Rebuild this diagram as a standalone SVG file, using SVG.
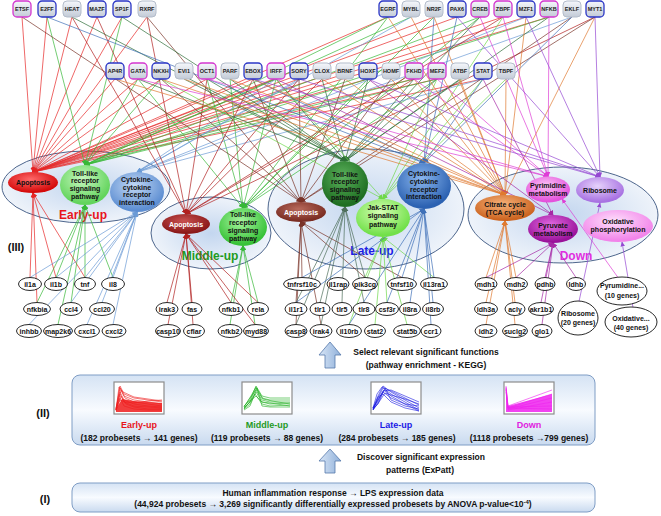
<svg xmlns="http://www.w3.org/2000/svg" width="661" height="516" viewBox="0 0 661 516">
<style>
text{font-family:"Liberation Sans",Arial,sans-serif;font-weight:bold}
.tf rect{fill:url(#gTF);stroke:#b4bdcb;stroke-width:1}
.tf.b rect{stroke:#2b36c6;stroke-width:1.3}
.tf.m rect{stroke:#d436cf;stroke-width:1.3}
.tf text{font-size:5.5px;text-anchor:middle;fill:#1a1a1a}
.cl ellipse{stroke:#3b5680;stroke-width:0.9;fill:url(#gCl)}
.cl text{font-size:12px;text-anchor:middle}
.pw text{font-size:7px;text-anchor:middle;fill:#111}
.pw text.w{fill:#fff}
.gn ellipse{fill:#fff;stroke:#111;stroke-width:0.9}
.gn text{font-size:7px;text-anchor:middle;fill:#111}
.cn line{stroke-width:0.7}
.box{fill:url(#gBox);stroke:#7f9dc5;stroke-width:1}
.t9{font-size:8.5px;text-anchor:middle;fill:#111}
.bar{fill:url(#gArr);stroke:#5579ab;stroke-width:0.8}
.plot rect{fill:#fff;stroke:#8c8c8c;stroke-width:1.2}
.plot polyline{fill:none;stroke-width:0.6}
.roman{font-size:11px;fill:#111;text-anchor:middle}
</style>
<defs>
<linearGradient id="gTF" x1="0" y1="0" x2="0" y2="1"><stop offset="0" stop-color="#f5f7fb"/><stop offset="1" stop-color="#c3cbd7"/></linearGradient>
<radialGradient id="gCl" cx="0.5" cy="0.5" r="0.5"><stop offset="0" stop-color="#c3d6ef"/><stop offset="1" stop-color="#eef3fa"/></radialGradient>
<linearGradient id="gBox" x1="0" y1="0" x2="0" y2="1"><stop offset="0" stop-color="#d5e3f4"/><stop offset="0.5" stop-color="#f8fbff"/><stop offset="1" stop-color="#c9daef"/></linearGradient>
<linearGradient id="gArr" x1="0" y1="0" x2="1" y2="0"><stop offset="0" stop-color="#d9e6f6"/><stop offset="1" stop-color="#8fb0da"/></linearGradient>
<radialGradient id="gRed" cx="0.45" cy="0.35" r="0.6"><stop offset="0" stop-color="#ff6a6a"/><stop offset="1" stop-color="#d40a0a"/></radialGradient>
<radialGradient id="gLG" cx="0.45" cy="0.35" r="0.6"><stop offset="0" stop-color="#c6f7be"/><stop offset="1" stop-color="#62d45c"/></radialGradient>
<radialGradient id="gBlue" cx="0.45" cy="0.35" r="0.6"><stop offset="0" stop-color="#c2d8f4"/><stop offset="1" stop-color="#5d8ed2"/></radialGradient>
<radialGradient id="gDR" cx="0.45" cy="0.35" r="0.6"><stop offset="0" stop-color="#c85050"/><stop offset="1" stop-color="#8a1818"/></radialGradient>
<radialGradient id="gG2" cx="0.45" cy="0.35" r="0.6"><stop offset="0" stop-color="#a8f5a0"/><stop offset="1" stop-color="#38c238"/></radialGradient>
<radialGradient id="gBr" cx="0.45" cy="0.35" r="0.6"><stop offset="0" stop-color="#b86a5c"/><stop offset="1" stop-color="#7a2c22"/></radialGradient>
<radialGradient id="gDG" cx="0.45" cy="0.35" r="0.6"><stop offset="0" stop-color="#5cb25c"/><stop offset="1" stop-color="#1e6e22"/></radialGradient>
<radialGradient id="gJak" cx="0.45" cy="0.35" r="0.6"><stop offset="0" stop-color="#d6ffb4"/><stop offset="1" stop-color="#72e04a"/></radialGradient>
<radialGradient id="gBlue2" cx="0.45" cy="0.35" r="0.6"><stop offset="0" stop-color="#8ab6ee"/><stop offset="1" stop-color="#2c62b2"/></radialGradient>
<radialGradient id="gOr" cx="0.45" cy="0.35" r="0.6"><stop offset="0" stop-color="#f6b27a"/><stop offset="1" stop-color="#cc6420"/></radialGradient>
<radialGradient id="gPk" cx="0.45" cy="0.35" r="0.6"><stop offset="0" stop-color="#fbc4f6"/><stop offset="1" stop-color="#e452dc"/></radialGradient>
<radialGradient id="gLav" cx="0.45" cy="0.35" r="0.6"><stop offset="0" stop-color="#e6d2fb"/><stop offset="1" stop-color="#a872e2"/></radialGradient>
<radialGradient id="gMag" cx="0.45" cy="0.35" r="0.6"><stop offset="0" stop-color="#e26ae2"/><stop offset="1" stop-color="#9a129a"/></radialGradient>
<radialGradient id="gLP" cx="0.45" cy="0.35" r="0.6"><stop offset="0" stop-color="#fde0fb"/><stop offset="1" stop-color="#f284ea"/></radialGradient>
<marker id="aR" viewBox="0 0 10 10" refX="9" refY="5" markerWidth="5" markerHeight="5" markerUnits="userSpaceOnUse" orient="auto"><path d="M0,0.5L10,5L0,9.5z" fill="#e62626"/></marker>
<marker id="aG" viewBox="0 0 10 10" refX="9" refY="5" markerWidth="5" markerHeight="5" markerUnits="userSpaceOnUse" orient="auto"><path d="M0,0.5L10,5L0,9.5z" fill="#38b838"/></marker>
<marker id="aB" viewBox="0 0 10 10" refX="9" refY="5" markerWidth="5" markerHeight="5" markerUnits="userSpaceOnUse" orient="auto"><path d="M0,0.5L10,5L0,9.5z" fill="#6b9bd6"/></marker>
<marker id="aDR" viewBox="0 0 10 10" refX="9" refY="5" markerWidth="5" markerHeight="5" markerUnits="userSpaceOnUse" orient="auto"><path d="M0,0.5L10,5L0,9.5z" fill="#b02020"/></marker>
<marker id="aBr" viewBox="0 0 10 10" refX="9" refY="5" markerWidth="5" markerHeight="5" markerUnits="userSpaceOnUse" orient="auto"><path d="M0,0.5L10,5L0,9.5z" fill="#7a3328"/></marker>
<marker id="aDG" viewBox="0 0 10 10" refX="9" refY="5" markerWidth="5" markerHeight="5" markerUnits="userSpaceOnUse" orient="auto"><path d="M0,0.5L10,5L0,9.5z" fill="#2f6f3a"/></marker>
<marker id="aLG" viewBox="0 0 10 10" refX="9" refY="5" markerWidth="5" markerHeight="5" markerUnits="userSpaceOnUse" orient="auto"><path d="M0,0.5L10,5L0,9.5z" fill="#6fd84a"/></marker>
<marker id="aB2" viewBox="0 0 10 10" refX="9" refY="5" markerWidth="5" markerHeight="5" markerUnits="userSpaceOnUse" orient="auto"><path d="M0,0.5L10,5L0,9.5z" fill="#3f70b8"/></marker>
<marker id="aOr" viewBox="0 0 10 10" refX="9" refY="5" markerWidth="5" markerHeight="5" markerUnits="userSpaceOnUse" orient="auto"><path d="M0,0.5L10,5L0,9.5z" fill="#e07a30"/></marker>
<marker id="aMg" viewBox="0 0 10 10" refX="9" refY="5" markerWidth="5" markerHeight="5" markerUnits="userSpaceOnUse" orient="auto"><path d="M0,0.5L10,5L0,9.5z" fill="#de3ed6"/></marker>
<marker id="aPu" viewBox="0 0 10 10" refX="9" refY="5" markerWidth="5" markerHeight="5" markerUnits="userSpaceOnUse" orient="auto"><path d="M0,0.5L10,5L0,9.5z" fill="#9548d2"/></marker>
<marker id="aPy" viewBox="0 0 10 10" refX="9" refY="5" markerWidth="5" markerHeight="5" markerUnits="userSpaceOnUse" orient="auto"><path d="M0,0.5L10,5L0,9.5z" fill="#a62aa6"/></marker>
<marker id="aGr" viewBox="0 0 10 10" refX="9" refY="5" markerWidth="5" markerHeight="5" markerUnits="userSpaceOnUse" orient="auto"><path d="M0,0.5L10,5L0,9.5z" fill="#4e6e5a"/></marker>
</defs>

<rect width="661" height="516" fill="#fff"/>

<!-- clusters -->
<g id="cluster-early" class="cl"><ellipse cx="86" cy="187" rx="84" ry="36"/><text x="83" y="219" fill="#e8141c">Early-up</text></g>
<g id="cluster-middle" class="cl"><ellipse cx="211" cy="233" rx="60" ry="36"/><text x="210" y="260" fill="#1f9a1f">Middle-up</text></g>
<g id="cluster-late" class="cl"><ellipse cx="366" cy="209" rx="98" ry="60"/><text x="372" y="255" fill="#1c1ce6">Late-up</text></g>
<g id="cluster-down" class="cl"><ellipse cx="563" cy="215" rx="95" ry="48"/><text x="576" y="260" fill="#e02ee0">Down</text></g>
<text class="roman" x="16" y="251">(III)</text>

<!-- connectors -->
<g id="connectors" class="cn">
<g stroke="#e62626" marker-end="url(#aR)">
<line x1="22" y1="17" x2="33" y2="172"/><line x1="47" y1="17" x2="33" y2="172"/><line x1="72" y1="17" x2="33" y2="172"/><line x1="97" y1="17" x2="33" y2="172"/><line x1="122" y1="17" x2="33" y2="172"/><line x1="147" y1="17" x2="33" y2="172"/><line x1="388" y1="17" x2="33" y2="172"/><line x1="434" y1="17" x2="33" y2="172"/><line x1="457" y1="17" x2="33" y2="172"/><line x1="503" y1="17" x2="33" y2="172"/><line x1="526" y1="17" x2="33" y2="172"/><line x1="549" y1="17" x2="33" y2="172"/>
<line x1="115" y1="79" x2="33" y2="172"/><line x1="138" y1="79" x2="33" y2="172"/><line x1="161" y1="79" x2="33" y2="172"/><line x1="207" y1="79" x2="33" y2="172"/><line x1="253" y1="79" x2="33" y2="172"/><line x1="276" y1="79" x2="33" y2="172"/><line x1="299" y1="79" x2="33" y2="172"/><line x1="368" y1="79" x2="33" y2="172"/><line x1="414" y1="79" x2="33" y2="172"/><line x1="437" y1="79" x2="33" y2="172"/><line x1="483" y1="79" x2="33" y2="172"/>
<line x1="30" y1="277.5" x2="33" y2="193"/><line x1="56" y1="277.5" x2="33" y2="193"/><line x1="85" y1="277.5" x2="33" y2="193"/><line x1="37" y1="302.5" x2="33" y2="193"/>
</g>
<g stroke="#38b838" marker-end="url(#aG)">
<line x1="47" y1="17" x2="85" y2="165"/><line x1="122" y1="17" x2="85" y2="165"/><line x1="388" y1="17" x2="85" y2="165"/><line x1="411" y1="17" x2="85" y2="165"/><line x1="480" y1="17" x2="85" y2="165"/><line x1="549" y1="17" x2="85" y2="165"/>
<line x1="138" y1="79" x2="85" y2="165"/><line x1="161" y1="79" x2="85" y2="165"/><line x1="276" y1="79" x2="85" y2="165"/><line x1="368" y1="79" x2="85" y2="165"/><line x1="414" y1="79" x2="85" y2="165"/><line x1="437" y1="79" x2="85" y2="165"/>
<line x1="56" y1="277.5" x2="85" y2="205"/><line x1="85" y1="277.5" x2="85" y2="205"/><line x1="113" y1="277.5" x2="85" y2="205"/><line x1="37" y1="302.5" x2="85" y2="205"/><line x1="71" y1="302.5" x2="85" y2="205"/><line x1="58" y1="324.5" x2="85" y2="205"/>
<line x1="388" y1="17" x2="243" y2="208"/><line x1="434" y1="17" x2="243" y2="208"/><line x1="480" y1="17" x2="243" y2="208"/><line x1="138" y1="79" x2="243" y2="208"/><line x1="207" y1="79" x2="243" y2="208"/><line x1="230" y1="79" x2="243" y2="208"/><line x1="276" y1="79" x2="243" y2="208"/><line x1="368" y1="79" x2="243" y2="208"/><line x1="437" y1="79" x2="243" y2="208"/>
<line x1="231" y1="302.5" x2="243" y2="246"/><line x1="258" y1="302.5" x2="243" y2="246"/><line x1="230" y1="324.5" x2="243" y2="246"/><line x1="255" y1="324.5" x2="243" y2="246"/>
</g>
<g stroke="#6b9bd6" marker-end="url(#aB)">
<line x1="411" y1="17" x2="137" y2="172"/><line x1="526" y1="17" x2="137" y2="172"/><line x1="572" y1="17" x2="137" y2="172"/><line x1="276" y1="79" x2="137" y2="172"/><line x1="299" y1="79" x2="137" y2="172"/><line x1="483" y1="79" x2="137" y2="172"/>
<line x1="30" y1="277.5" x2="137" y2="212"/><line x1="56" y1="277.5" x2="137" y2="212"/><line x1="85" y1="277.5" x2="137" y2="212"/><line x1="113" y1="277.5" x2="137" y2="212"/><line x1="71" y1="302.5" x2="137" y2="212"/><line x1="102" y1="302.5" x2="137" y2="212"/><line x1="29" y1="324.5" x2="137" y2="212"/><line x1="87" y1="324.5" x2="137" y2="212"/><line x1="113" y1="324.5" x2="137" y2="212"/>
</g>
<g stroke="#b02020" marker-end="url(#aDR)">
<line x1="72" y1="17" x2="186" y2="214"/><line x1="97" y1="17" x2="186" y2="214"/><line x1="147" y1="17" x2="186" y2="214"/><line x1="503" y1="17" x2="186" y2="214"/><line x1="595" y1="17" x2="186" y2="214"/><line x1="207" y1="79" x2="186" y2="214"/><line x1="253" y1="79" x2="186" y2="214"/><line x1="299" y1="79" x2="186" y2="214"/><line x1="322" y1="79" x2="186" y2="214"/><line x1="414" y1="79" x2="186" y2="214"/>
<line x1="167" y1="302.5" x2="186" y2="234"/><line x1="192" y1="302.5" x2="186" y2="234"/><line x1="231" y1="302.5" x2="186" y2="234"/><line x1="258" y1="302.5" x2="186" y2="234"/><line x1="168" y1="324.5" x2="186" y2="234"/><line x1="193" y1="324.5" x2="186" y2="234"/><line x1="255" y1="324.5" x2="186" y2="234"/>
</g>
<g stroke="#7a3328" marker-end="url(#aBr)">
<line x1="22" y1="17" x2="301" y2="202"/><line x1="147" y1="17" x2="301" y2="202"/><line x1="572" y1="17" x2="301" y2="202"/><line x1="595" y1="17" x2="301" y2="202"/><line x1="161" y1="79" x2="301" y2="202"/><line x1="253" y1="79" x2="301" y2="202"/><line x1="299" y1="79" x2="301" y2="202"/><line x1="345" y1="79" x2="301" y2="202"/><line x1="391" y1="79" x2="301" y2="202"/>
<line x1="302" y1="277.5" x2="301" y2="222"/><line x1="365" y1="277.5" x2="301" y2="222"/><line x1="402" y1="277.5" x2="301" y2="222"/><line x1="296" y1="302.5" x2="301" y2="222"/><line x1="296" y1="324.5" x2="301" y2="222"/><line x1="321" y1="324.5" x2="301" y2="222"/>
</g>
<g stroke="#2f6f3a" marker-end="url(#aDG)">
<line x1="72" y1="17" x2="345" y2="161"/><line x1="122" y1="17" x2="345" y2="161"/><line x1="480" y1="17" x2="345" y2="161"/><line x1="549" y1="17" x2="345" y2="161"/><line x1="138" y1="79" x2="345" y2="161"/><line x1="184" y1="79" x2="345" y2="161"/><line x1="207" y1="79" x2="345" y2="161"/><line x1="230" y1="79" x2="345" y2="161"/><line x1="276" y1="79" x2="345" y2="161"/><line x1="322" y1="79" x2="345" y2="161"/><line x1="368" y1="79" x2="345" y2="161"/><line x1="414" y1="79" x2="345" y2="161"/><line x1="437" y1="79" x2="345" y2="161"/><line x1="460" y1="79" x2="345" y2="161"/>
</g>
<g stroke="#4e6e5a" marker-end="url(#aGr)">
<line x1="296" y1="302.5" x2="345" y2="207"/><line x1="320" y1="302.5" x2="345" y2="207"/><line x1="342" y1="302.5" x2="345" y2="207"/><line x1="364" y1="302.5" x2="345" y2="207"/><line x1="365" y1="277.5" x2="345" y2="207"/><line x1="296" y1="324.5" x2="345" y2="207"/><line x1="321" y1="324.5" x2="345" y2="207"/>
</g>
<g stroke="#6fd84a" marker-end="url(#aLG)">
<line x1="503" y1="17" x2="383" y2="199"/><line x1="161" y1="79" x2="383" y2="199"/><line x1="276" y1="79" x2="383" y2="199"/><line x1="437" y1="79" x2="383" y2="199"/><line x1="483" y1="79" x2="383" y2="199"/><line x1="506" y1="79" x2="383" y2="199"/>
<line x1="365" y1="277.5" x2="383" y2="237"/><line x1="434" y1="277.5" x2="383" y2="237"/><line x1="387" y1="302.5" x2="383" y2="237"/><line x1="349" y1="324.5" x2="383" y2="237"/><line x1="375" y1="324.5" x2="383" y2="237"/><line x1="407" y1="324.5" x2="383" y2="237"/>
</g>
<g stroke="#3f70b8" marker-end="url(#aB2)">
<line x1="47" y1="17" x2="424" y2="163"/><line x1="434" y1="17" x2="424" y2="163"/><line x1="457" y1="17" x2="424" y2="163"/><line x1="572" y1="17" x2="424" y2="163"/><line x1="253" y1="79" x2="424" y2="163"/><line x1="483" y1="79" x2="424" y2="163"/>
<line x1="302" y1="277.5" x2="424" y2="209"/><line x1="402" y1="277.5" x2="424" y2="209"/><line x1="434" y1="277.5" x2="424" y2="209"/><line x1="296" y1="302.5" x2="424" y2="209"/><line x1="387" y1="302.5" x2="424" y2="209"/><line x1="410" y1="302.5" x2="424" y2="209"/><line x1="433" y1="302.5" x2="424" y2="209"/><line x1="349" y1="324.5" x2="424" y2="209"/><line x1="431" y1="324.5" x2="424" y2="209"/>
</g>
<g stroke="#e07a30" marker-end="url(#aOr)">
<line x1="388" y1="17" x2="505" y2="195"/><line x1="411" y1="17" x2="505" y2="195"/><line x1="434" y1="17" x2="505" y2="195"/><line x1="526" y1="17" x2="505" y2="195"/><line x1="595" y1="17" x2="505" y2="195"/><line x1="115" y1="79" x2="505" y2="195"/><line x1="161" y1="79" x2="505" y2="195"/><line x1="184" y1="79" x2="505" y2="195"/><line x1="230" y1="79" x2="505" y2="195"/><line x1="253" y1="79" x2="505" y2="195"/><line x1="322" y1="79" x2="505" y2="195"/><line x1="345" y1="79" x2="505" y2="195"/><line x1="391" y1="79" x2="505" y2="195"/><line x1="414" y1="79" x2="505" y2="195"/><line x1="460" y1="79" x2="505" y2="195"/><line x1="506" y1="79" x2="505" y2="195"/>
<line x1="486" y1="277.5" x2="505" y2="221"/><line x1="516" y1="277.5" x2="505" y2="221"/><line x1="486" y1="302.5" x2="505" y2="221"/><line x1="515" y1="302.5" x2="505" y2="221"/><line x1="486" y1="324.5" x2="505" y2="221"/><line x1="515" y1="324.5" x2="505" y2="221"/>
</g>
<g stroke="#de3ed6" marker-end="url(#aMg)">
<line x1="480" y1="17" x2="548" y2="176.5"/><line x1="503" y1="17" x2="548" y2="176.5"/><line x1="549" y1="17" x2="548" y2="176.5"/><line x1="138" y1="79" x2="548" y2="176.5"/><line x1="207" y1="79" x2="548" y2="176.5"/><line x1="414" y1="79" x2="548" y2="176.5"/><line x1="437" y1="79" x2="548" y2="176.5"/>
<line x1="618" y1="277.5" x2="562" y2="199"/>
</g>
<g stroke="#9548d2" marker-end="url(#aPu)">
<line x1="457" y1="17" x2="600" y2="177"/><line x1="526" y1="17" x2="600" y2="177"/><line x1="595" y1="17" x2="600" y2="177"/><line x1="253" y1="79" x2="600" y2="177"/><line x1="299" y1="79" x2="600" y2="177"/><line x1="368" y1="79" x2="600" y2="177"/>
<line x1="579" y1="301.5" x2="600" y2="203"/><line x1="633" y1="307.5" x2="622" y2="242"/>
</g>
<g stroke="#a62aa6" marker-end="url(#aPy)">
<line x1="276" y1="79" x2="553" y2="215"/><line x1="368" y1="79" x2="553" y2="215"/><line x1="483" y1="79" x2="553" y2="215"/>
<line x1="486" y1="277.5" x2="553" y2="243"/><line x1="516" y1="277.5" x2="553" y2="243"/><line x1="545" y1="277.5" x2="553" y2="243"/><line x1="576" y1="277.5" x2="553" y2="243"/><line x1="541" y1="302.5" x2="553" y2="243"/><line x1="542" y1="324.5" x2="553" y2="243"/>
</g>
</g>

<!-- pathway nodes -->
<g id="p-early-apoptosis" class="pw"><ellipse cx="33" cy="182.5" rx="25" ry="10.5" fill="url(#gRed)"/><text x="33" y="185">Apoptosis</text></g>
<g id="p-early-toll" class="pw"><ellipse cx="85" cy="185" rx="25" ry="20" fill="url(#gLG)"/><text x="85" y="175.5">Toll-like<tspan x="85" dy="7.7">receptor</tspan><tspan x="85" dy="7.7">signaling</tspan><tspan x="85" dy="7.7">pathway</tspan></text></g>
<g id="p-early-cytokine" class="pw"><ellipse cx="137" cy="192" rx="27" ry="20" fill="url(#gBlue)"/><text x="137" y="182">Cytokine-<tspan x="137" dy="7.6">cytokine</tspan><tspan x="137" dy="7.6">receptor</tspan><tspan x="137" dy="7.6">interaction</tspan></text></g>
<g id="p-middle-apoptosis" class="pw"><ellipse cx="186" cy="224" rx="24" ry="10" fill="url(#gDR)"/><text class="w" x="186" y="226.5">Apoptosis</text></g>
<g id="p-middle-toll" class="pw"><ellipse cx="243" cy="227" rx="24" ry="19" fill="url(#gG2)"/><text x="243" y="217">Toll-like<tspan x="243" dy="8">receptor</tspan><tspan x="243" dy="8">signaling</tspan><tspan x="243" dy="8">pathway</tspan></text></g>
<g id="p-late-apoptosis" class="pw"><ellipse cx="301" cy="212" rx="25" ry="10" fill="url(#gBr)"/><text class="w" x="301" y="214.5">Apoptosis</text></g>
<g id="p-late-toll" class="pw"><ellipse cx="345" cy="184" rx="23" ry="23" fill="url(#gDG)"/><text x="345" y="176.5">Toll-like<tspan x="345" dy="7.7">receptor</tspan><tspan x="345" dy="7.7">signaling</tspan><tspan x="345" dy="7.7">pathway</tspan></text></g>
<g id="p-late-jakstat" class="pw"><ellipse cx="383" cy="218" rx="27" ry="19" fill="url(#gJak)"/><text x="383" y="210">Jak-STAT<tspan x="383" dy="8.3">signaling</tspan><tspan x="383" dy="8.3">pathway</tspan></text></g>
<g id="p-late-cytokine" class="pw"><ellipse cx="424" cy="186" rx="27" ry="23" fill="url(#gBlue2)"/><text x="424" y="176">Cytokine-<tspan x="424" dy="7.8">cytokine</tspan><tspan x="424" dy="7.8">receptor</tspan><tspan x="424" dy="7.8">interaction</tspan></text></g>
<g id="p-down-citrate" class="pw"><ellipse cx="505" cy="208" rx="30" ry="13" fill="url(#gOr)"/><text x="505" y="207">Citrate cycle<tspan x="505" dy="8">(TCA cycle)</tspan></text></g>
<g id="p-down-pyrimidine" class="pw"><ellipse cx="548" cy="189.5" rx="22" ry="13" fill="url(#gPk)"/><text x="548" y="188">Pyrimidine<tspan x="548" dy="7.6">metabolism</tspan></text></g>
<g id="p-down-ribosome" class="pw"><ellipse cx="600" cy="190" rx="24" ry="13" fill="url(#gLav)"/><text x="600" y="192.5">Ribosome</text></g>
<g id="p-down-pyruvate" class="pw"><ellipse cx="553" cy="229" rx="25" ry="14" fill="url(#gMag)"/><text x="553" y="227.5">Pyruvate<tspan x="553" dy="8">metabolism</tspan></text></g>
<g id="p-down-oxidative" class="pw"><ellipse cx="618" cy="226" rx="35" ry="16" fill="url(#gLP)"/><text x="618" y="223.5">Oxidative<tspan x="618" dy="8">phosphorylation</tspan></text></g>

<!-- transcription factors, top row -->
<g id="tf-ETSF" class="tf m"><rect x="13" y="1" width="18" height="16" rx="4"/><text x="22" y="11">ETSF</text></g>
<g id="tf-E2FF" class="tf b"><rect x="38" y="1" width="18" height="16" rx="4"/><text x="47" y="11">E2FF</text></g>
<g id="tf-HEAT" class="tf"><rect x="63" y="1" width="18" height="16" rx="4"/><text x="72" y="11">HEAT</text></g>
<g id="tf-MAZF" class="tf b"><rect x="88" y="1" width="18" height="16" rx="4"/><text x="97" y="11">MAZF</text></g>
<g id="tf-SP1F" class="tf b"><rect x="113" y="1" width="18" height="16" rx="4"/><text x="122" y="11">SP1F</text></g>
<g id="tf-RXRF" class="tf"><rect x="138" y="1" width="18" height="16" rx="4"/><text x="147" y="11">RXRF</text></g>
<g id="tf-EGRF" class="tf b"><rect x="379" y="1" width="18" height="16" rx="4"/><text x="388" y="11">EGRF</text></g>
<g id="tf-MYBL" class="tf"><rect x="402" y="1" width="18" height="16" rx="4"/><text x="411" y="11">MYBL</text></g>
<g id="tf-NR2F" class="tf"><rect x="425" y="1" width="18" height="16" rx="4"/><text x="434" y="11">NR2F</text></g>
<g id="tf-PAX6" class="tf b"><rect x="448" y="1" width="18" height="16" rx="4"/><text x="457" y="11">PAX6</text></g>
<g id="tf-CREB" class="tf m"><rect x="471" y="1" width="18" height="16" rx="4"/><text x="480" y="11">CREB</text></g>
<g id="tf-ZBPF" class="tf m"><rect x="494" y="1" width="18" height="16" rx="4"/><text x="503" y="11">ZBPF</text></g>
<g id="tf-MZF1" class="tf b"><rect x="517" y="1" width="18" height="16" rx="4"/><text x="526" y="11">MZF1</text></g>
<g id="tf-NFKB" class="tf m"><rect x="540" y="1" width="18" height="16" rx="4"/><text x="549" y="11">NFKB</text></g>
<g id="tf-EKLF" class="tf"><rect x="563" y="1" width="18" height="16" rx="4"/><text x="572" y="11">EKLF</text></g>
<g id="tf-MYT1" class="tf b"><rect x="586" y="1" width="18" height="16" rx="4"/><text x="595" y="11">MYT1</text></g>
<!-- transcription factors, second row -->
<g id="tf-AP4R" class="tf b"><rect x="106" y="63" width="18" height="16" rx="4"/><text x="115" y="73">AP4R</text></g>
<g id="tf-GATA" class="tf m"><rect x="129" y="63" width="18" height="16" rx="4"/><text x="138" y="73">GATA</text></g>
<g id="tf-NKXH" class="tf b"><rect x="152" y="63" width="18" height="16" rx="4"/><text x="161" y="73">NKXH</text></g>
<g id="tf-EVI1" class="tf"><rect x="175" y="63" width="18" height="16" rx="4"/><text x="184" y="73">EVI1</text></g>
<g id="tf-OCT1" class="tf m"><rect x="198" y="63" width="18" height="16" rx="4"/><text x="207" y="73">OCT1</text></g>
<g id="tf-PARF" class="tf"><rect x="221" y="63" width="18" height="16" rx="4"/><text x="230" y="73">PARF</text></g>
<g id="tf-EBOX" class="tf b"><rect x="244" y="63" width="18" height="16" rx="4"/><text x="253" y="73">EBOX</text></g>
<g id="tf-IRFF" class="tf m"><rect x="267" y="63" width="18" height="16" rx="4"/><text x="276" y="73">IRFF</text></g>
<g id="tf-SORY" class="tf b"><rect x="290" y="63" width="18" height="16" rx="4"/><text x="299" y="73">SORY</text></g>
<g id="tf-CLOX" class="tf"><rect x="313" y="63" width="18" height="16" rx="4"/><text x="322" y="73">CLOX</text></g>
<g id="tf-BRNF" class="tf"><rect x="336" y="63" width="18" height="16" rx="4"/><text x="345" y="73">BRNF</text></g>
<g id="tf-HOXF" class="tf b"><rect x="359" y="63" width="18" height="16" rx="4"/><text x="368" y="73">HOXF</text></g>
<g id="tf-HOMF" class="tf"><rect x="382" y="63" width="18" height="16" rx="4"/><text x="391" y="73">HOMF</text></g>
<g id="tf-FKHD" class="tf m"><rect x="405" y="63" width="18" height="16" rx="4"/><text x="414" y="73">FKHD</text></g>
<g id="tf-MEF2" class="tf m"><rect x="428" y="63" width="18" height="16" rx="4"/><text x="437" y="73">MEF2</text></g>
<g id="tf-ATBF" class="tf"><rect x="451" y="63" width="18" height="16" rx="4"/><text x="460" y="73">ATBF</text></g>
<g id="tf-STAT" class="tf b"><rect x="474" y="63" width="18" height="16" rx="4"/><text x="483" y="73">STAT</text></g>
<g id="tf-TBPF" class="tf"><rect x="497" y="63" width="18" height="16" rx="4"/><text x="506" y="73">TBPF</text></g>

<!-- genes: early-up -->
<g id="g-il1a" class="gn"><ellipse cx="30" cy="284" rx="11.5" ry="6.5"/><text x="30" y="286.5">il1a</text></g>
<g id="g-il1b" class="gn"><ellipse cx="56" cy="284" rx="11.5" ry="6.5"/><text x="56" y="286.5">il1b</text></g>
<g id="g-tnf" class="gn"><ellipse cx="85" cy="284" rx="10.5" ry="6.5"/><text x="85" y="286.5">tnf</text></g>
<g id="g-il8" class="gn"><ellipse cx="113" cy="284" rx="11.5" ry="6.5"/><text x="113" y="286.5">il8</text></g>
<g id="g-nfkbia" class="gn"><ellipse cx="37" cy="309" rx="13.5" ry="6.5"/><text x="37" y="311.5">nfkbia</text></g>
<g id="g-ccl4" class="gn"><ellipse cx="71" cy="309" rx="11" ry="6.5"/><text x="71" y="311.5">ccl4</text></g>
<g id="g-ccl20" class="gn"><ellipse cx="102" cy="309" rx="12.5" ry="6.5"/><text x="102" y="311.5">ccl20</text></g>
<g id="g-inhbb" class="gn"><ellipse cx="29" cy="331" rx="12.5" ry="6.5"/><text x="29" y="333.5">inhbb</text></g>
<g id="g-map2k6" class="gn"><ellipse cx="58" cy="331" rx="14.5" ry="6.5"/><text x="58" y="333.5">map2k6</text></g>
<g id="g-cxcl1" class="gn"><ellipse cx="87" cy="331" rx="12.5" ry="6.5"/><text x="87" y="333.5">cxcl1</text></g>
<g id="g-cxcl2" class="gn"><ellipse cx="114" cy="331" rx="12" ry="6.5"/><text x="114" y="333.5">cxcl2</text></g>
<!-- genes: middle-up -->
<g id="g-irak3" class="gn"><ellipse cx="167" cy="309" rx="11" ry="6.5"/><text x="167" y="311.5">irak3</text></g>
<g id="g-fas" class="gn"><ellipse cx="192" cy="309" rx="10" ry="6.5"/><text x="192" y="311.5">fas</text></g>
<g id="g-nfkb1" class="gn"><ellipse cx="231" cy="309" rx="12" ry="6.5"/><text x="231" y="311.5">nfkb1</text></g>
<g id="g-rela" class="gn"><ellipse cx="258" cy="309" rx="10.5" ry="6.5"/><text x="258" y="311.5">rela</text></g>
<g id="g-casp10" class="gn"><ellipse cx="168" cy="331" rx="12.5" ry="6.5"/><text x="168" y="333.5">casp10</text></g>
<g id="g-cflar" class="gn"><ellipse cx="194" cy="331" rx="10.5" ry="6.5"/><text x="194" y="333.5">cflar</text></g>
<g id="g-nfkb2" class="gn"><ellipse cx="230" cy="331" rx="12" ry="6.5"/><text x="230" y="333.5">nfkb2</text></g>
<g id="g-myd88" class="gn"><ellipse cx="256" cy="331" rx="12.5" ry="6.5"/><text x="256" y="333.5">myd88</text></g>
<!-- genes: late-up -->
<g id="g-tnfrsf10c" class="gn"><ellipse cx="302" cy="284" rx="18.5" ry="6.5"/><text x="302" y="286.5">tnfrsf10c</text></g>
<g id="g-il1rap" class="gn"><ellipse cx="338" cy="284" rx="11" ry="6.5"/><text x="338" y="286.5">il1rap</text></g>
<g id="g-pik3cg" class="gn"><ellipse cx="365" cy="284" rx="12.5" ry="6.5"/><text x="365" y="286.5">pik3cg</text></g>
<g id="g-tnfsf10" class="gn"><ellipse cx="402" cy="284" rx="14.5" ry="6.5"/><text x="402" y="286.5">tnfsf10</text></g>
<g id="g-il13ra1" class="gn"><ellipse cx="434" cy="284" rx="13.5" ry="6.5"/><text x="434" y="286.5">il13ra1</text></g>
<g id="g-il1r1" class="gn"><ellipse cx="296" cy="309" rx="11" ry="6.5"/><text x="296" y="311.5">il1r1</text></g>
<g id="g-tlr1" class="gn"><ellipse cx="320" cy="309" rx="10" ry="6.5"/><text x="320" y="311.5">tlr1</text></g>
<g id="g-tlr5" class="gn"><ellipse cx="342" cy="309" rx="10" ry="6.5"/><text x="342" y="311.5">tlr5</text></g>
<g id="g-tlr8" class="gn"><ellipse cx="364" cy="309" rx="11" ry="6.5"/><text x="364" y="311.5">tlr8</text></g>
<g id="g-csf3r" class="gn"><ellipse cx="387" cy="309" rx="11.5" ry="6.5"/><text x="387" y="311.5">csf3r</text></g>
<g id="g-il8ra" class="gn"><ellipse cx="410" cy="309" rx="10.5" ry="6.5"/><text x="410" y="311.5">il8ra</text></g>
<g id="g-il8rb" class="gn"><ellipse cx="433" cy="309" rx="10.5" ry="6.5"/><text x="433" y="311.5">il8rb</text></g>
<g id="g-casp8" class="gn"><ellipse cx="296" cy="331" rx="11" ry="6.5"/><text x="296" y="333.5">casp8</text></g>
<g id="g-irak4" class="gn"><ellipse cx="321" cy="331" rx="11" ry="6.5"/><text x="321" y="333.5">irak4</text></g>
<g id="g-il10rb" class="gn"><ellipse cx="349" cy="331" rx="12.5" ry="6.5"/><text x="349" y="333.5">il10rb</text></g>
<g id="g-stat2" class="gn"><ellipse cx="375" cy="331" rx="10.5" ry="6.5"/><text x="375" y="333.5">stat2</text></g>
<g id="g-stat5b" class="gn"><ellipse cx="407" cy="331" rx="13.5" ry="6.5"/><text x="407" y="333.5">stat5b</text></g>
<g id="g-ccr1" class="gn"><ellipse cx="431" cy="331" rx="10" ry="6.5"/><text x="431" y="333.5">ccr1</text></g>
<!-- genes: down -->
<g id="g-mdh1" class="gn"><ellipse cx="486" cy="284" rx="11" ry="6.5"/><text x="486" y="286.5">mdh1</text></g>
<g id="g-mdh2" class="gn"><ellipse cx="516" cy="284" rx="11.5" ry="6.5"/><text x="516" y="286.5">mdh2</text></g>
<g id="g-pdhb" class="gn"><ellipse cx="545" cy="284" rx="10" ry="6.5"/><text x="545" y="286.5">pdhb</text></g>
<g id="g-ldhb" class="gn"><ellipse cx="576" cy="284" rx="9.5" ry="6.5"/><text x="576" y="286.5">ldhb</text></g>
<g id="g-pyrumidine" class="gn"><ellipse cx="622" cy="291" rx="25" ry="14"/><text x="622" y="288">Pyrumidine...<tspan x="622" dy="9.5">(10 genes)</tspan></text></g>
<g id="g-idh3a" class="gn"><ellipse cx="486" cy="309" rx="11.5" ry="6.5"/><text x="486" y="311.5">idh3a</text></g>
<g id="g-acly" class="gn"><ellipse cx="515" cy="309" rx="10" ry="6.5"/><text x="515" y="311.5">acly</text></g>
<g id="g-akr1b1" class="gn"><ellipse cx="541" cy="309" rx="12.5" ry="6.5"/><text x="541" y="311.5">akr1b1</text></g>
<g id="g-ribosome" class="gn"><ellipse cx="578" cy="318" rx="20" ry="17"/><text x="578" y="315.5">Ribosome<tspan x="578" dy="9">(20 genes)</tspan></text></g>
<g id="g-oxidative" class="gn"><ellipse cx="631" cy="322" rx="26" ry="15"/><text x="631" y="320.5">Oxidative...<tspan x="631" dy="9">(40 genes)</tspan></text></g>
<g id="g-idh2" class="gn"><ellipse cx="486" cy="331" rx="11" ry="6.5"/><text x="486" y="333.5">idh2</text></g>
<g id="g-suclg2" class="gn"><ellipse cx="515" cy="331" rx="12.5" ry="6.5"/><text x="515" y="333.5">suclg2</text></g>
<g id="g-glo1" class="gn"><ellipse cx="542" cy="331" rx="10" ry="6.5"/><text x="542" y="333.5">glo1</text></g>

<!-- step arrow (III) <- (II) -->
<g id="arrow-select"><path class="bar" d="M330,342 L341,355 L335,355 L335,368 L325,368 L325,355 L319,355 Z"/>
<text class="t9" x="426" y="355">Select relevant significant functions</text><text class="t9" x="426" y="367.5">(pathway enrichment - KEGG)</text></g>

<!-- level II -->
<g id="level-II"><rect class="box" x="72" y="375" width="523" height="70" rx="8"/>
<text class="roman" x="43" y="417">(II)</text>
<g class="plot" transform="translate(114,382)"><rect width="50" height="32"/>
<polygon points="8,17 20,19 34,20 48,21 48,30 2,30 2,27" fill="#ee1c1c" opacity="0.85"/>
<g stroke="#ee1c1c"><polyline points="2,28 6,4 10,12 20,16 34,18 48,20"/><polyline points="2,27 6,6 10,14 20,18 34,20 48,22"/><polyline points="2,28 7,8 11,16 20,20 34,22 48,24"/><polyline points="2,26 6,10 10,18 20,22 34,24 48,25"/><polyline points="2,28 6,12 10,20 20,24 34,25 48,26"/><polyline points="2,27 7,14 12,22 20,25 34,27 48,27"/><polyline points="2,28 6,16 10,24 20,27 34,28 48,28"/><polyline points="2,29 6,18 11,20 20,21 34,19 48,18"/><polyline points="2,28 5,5 9,10 20,15 34,17 48,19"/></g></g>
<text x="139" y="428" font-size="9" text-anchor="middle" fill="#e8141c">Early-up</text>
<text class="t9" x="139" y="441">(182 probesets → 141 genes)</text>
<g class="plot" transform="translate(242,382)"><rect width="50" height="32"/>
<g stroke="#1fae1f"><polyline points="2,24 8,18 14,4 20,14 28,16 48,16"/><polyline points="2,26 8,20 14,6 20,16 28,18 48,18"/><polyline points="2,25 8,16 14,8 20,18 28,20 48,20"/><polyline points="2,27 8,22 14,10 20,20 28,22 48,21"/><polyline points="2,26 8,20 13,12 20,22 28,24 48,23"/><polyline points="2,28 8,24 15,6 20,24 28,25 48,25"/><polyline points="2,27 8,19 14,14 20,20 28,21 48,24"/><polyline points="2,25 9,14 14,5 21,17 30,19 48,22"/></g></g>
<text x="267" y="428" font-size="9" text-anchor="middle" fill="#1f9a1f">Middle-up</text>
<text class="t9" x="267" y="441">(119 probesets → 88 genes)</text>
<g class="plot" transform="translate(371,382)"><rect width="50" height="32"/>
<g stroke="#1a1ae0"><polyline points="2,26 7,14 12,4 20,10 34,18 48,26"/><polyline points="2,27 7,16 12,6 20,12 34,20 48,28"/><polyline points="2,26 7,18 13,8 20,14 34,22 48,29"/><polyline points="2,28 7,20 12,10 20,16 34,22 48,24"/><polyline points="2,27 7,22 14,6 20,18 34,24 48,27"/><polyline points="2,28 7,15 12,12 20,20 34,26 48,29"/><polyline points="2,27 7,18 12,9 20,8 34,14 48,20"/><polyline points="2,28 8,20 14,11 20,13 34,17 48,22"/><polyline points="2,26 6,12 11,5 20,9 34,16 48,23"/></g></g>
<text x="396" y="428" font-size="9" text-anchor="middle" fill="#1a1ae6">Late-up</text>
<text class="t9" x="397" y="441">(284 probesets → 185 genes)</text>
<g class="plot" transform="translate(504,382)"><rect width="50" height="32"/>
<polygon points="2,10 4,24 48,12 48,30 2,30" fill="#ee22ee" opacity="0.85"/>
<g stroke="#ee22ee"><polyline points="2,4 4,24 48,8"/><polyline points="2,6 4,26 48,12"/><polyline points="2,8 4,27 48,16"/><polyline points="2,10 4,28 48,20"/><polyline points="2,5 4,25 48,24"/><polyline points="2,7 4,26 48,27"/></g></g>
<text x="529" y="428" font-size="9" text-anchor="middle" fill="#e020e0">Down</text>
<text class="t9" x="529" y="441">(1118 probesets →799 genes)</text>
</g>

<!-- step arrow (II) <- (I) -->
<g id="arrow-discover"><path class="bar" d="M330,449 L341,461 L335,461 L335,473 L325,473 L325,461 L319,461 Z"/>
<text class="t9" x="421" y="460">Discover significant expression</text><text class="t9" x="420" y="472.5">patterns (ExPatt)</text></g>

<!-- level I -->
<g id="level-I"><rect class="box" x="72" y="483" width="523" height="29" rx="8"/>
<text class="roman" x="45" y="503">(I)</text>
<text class="t9" x="333" y="495.5">Human inflammation response → LPS expression data</text>
<text class="t9" x="333" y="506.5">(44,924 probesets → 3,269 significantly differentially expressed probesets by ANOVA p-value&lt;10<tspan font-size="6" dy="-3">-4</tspan><tspan dy="3">)</tspan></text>
</g>
</svg>
